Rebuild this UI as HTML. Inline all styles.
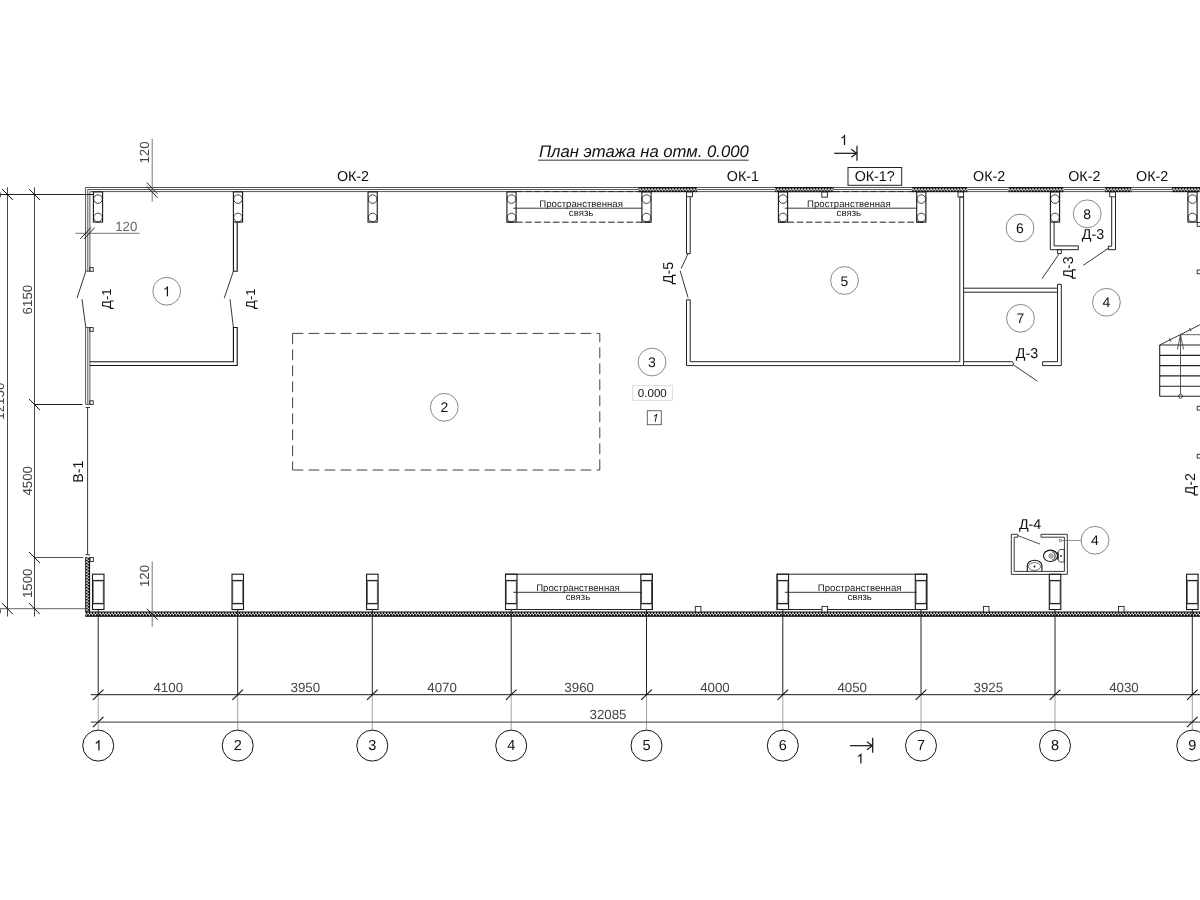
<!DOCTYPE html>
<html><head><meta charset="utf-8"><title>План этажа</title>
<style>
html,body{margin:0;padding:0;background:#fff;}
body{width:1200px;height:900px;overflow:hidden;font-family:"Liberation Sans",sans-serif;}
svg{display:block;font-family:"Liberation Sans",sans-serif;will-change:transform;opacity:0.999;}
text{text-rendering:geometricPrecision;}
</style></head><body>
<svg width="1200" height="900" viewBox="0 0 1200 900">
<defs>
<pattern id="hxT" x="0" y="187.0" width="3" height="5.2" patternUnits="userSpaceOnUse">
<rect width="3" height="5.2" fill="#0c0c0c"/>
<rect x="0.05" y="1.35" width="2.0" height="1.7" fill="#e2e2e2"/>
<rect x="1.8" y="2.85" width="1.2" height="1.2" fill="#fff"/>
</pattern>
<pattern id="hxB" x="0" y="611.5" width="3" height="5.3" patternUnits="userSpaceOnUse">
<rect width="3" height="5.3" fill="#0c0c0c"/>
<rect x="0.1" y="1.15" width="1.9" height="1.55" fill="#dcdcdc"/>
<rect x="1.8" y="2.65" width="1.2" height="1.25" fill="#fff"/>
</pattern>
<pattern id="hy" x="85.2" y="0" width="4.9" height="3" patternUnits="userSpaceOnUse">
<rect width="4.9" height="3" fill="#0c0c0c"/>
<rect y="0.1" x="1.05" width="1.5" height="1.9" fill="#dcdcdc"/>
<rect y="1.8" x="2.5" width="1.25" height="1.2" fill="#fff"/>
</pattern>
</defs>
<rect width="1200" height="900" fill="#fff"/>
<line x1="697.00" y1="187.50" x2="775.00" y2="187.50" stroke="#2a2a2a" stroke-width="0.8" />
<line x1="697.00" y1="189.55" x2="775.00" y2="189.55" stroke="#2a2a2a" stroke-width="0.8" />
<line x1="697.00" y1="191.60" x2="775.00" y2="191.60" stroke="#2a2a2a" stroke-width="0.8" />
<line x1="833.70" y1="187.50" x2="912.00" y2="187.50" stroke="#2a2a2a" stroke-width="0.8" />
<line x1="833.70" y1="189.55" x2="912.00" y2="189.55" stroke="#2a2a2a" stroke-width="0.8" />
<line x1="833.70" y1="191.60" x2="912.00" y2="191.60" stroke="#2a2a2a" stroke-width="0.8" />
<line x1="967.50" y1="187.50" x2="1008.30" y2="187.50" stroke="#2a2a2a" stroke-width="0.8" />
<line x1="967.50" y1="189.55" x2="1008.30" y2="189.55" stroke="#2a2a2a" stroke-width="0.8" />
<line x1="967.50" y1="191.60" x2="1008.30" y2="191.60" stroke="#2a2a2a" stroke-width="0.8" />
<line x1="1063.70" y1="187.50" x2="1104.70" y2="187.50" stroke="#2a2a2a" stroke-width="0.8" />
<line x1="1063.70" y1="189.55" x2="1104.70" y2="189.55" stroke="#2a2a2a" stroke-width="0.8" />
<line x1="1063.70" y1="191.60" x2="1104.70" y2="191.60" stroke="#2a2a2a" stroke-width="0.8" />
<line x1="1131.70" y1="187.50" x2="1172.00" y2="187.50" stroke="#2a2a2a" stroke-width="0.8" />
<line x1="1131.70" y1="189.55" x2="1172.00" y2="189.55" stroke="#2a2a2a" stroke-width="0.8" />
<line x1="1131.70" y1="191.60" x2="1172.00" y2="191.60" stroke="#2a2a2a" stroke-width="0.8" />
<path d="M85.6 271.2 V187.5 H638.3" stroke="#2a2a2a" stroke-width="0.8" fill="none" />
<path d="M87.8 271.2 V189.55 H638.3" stroke="#2a2a2a" stroke-width="0.8" fill="none" />
<path d="M89.9 271.2 V191.6 H638.3" stroke="#2a2a2a" stroke-width="0.8" fill="none" />
<rect x="638.30" y="187.00" width="58.70" height="5.20" stroke="none" stroke-width="0" fill="url(#hxT)" />
<rect x="775.00" y="187.00" width="58.70" height="5.20" stroke="none" stroke-width="0" fill="url(#hxT)" />
<rect x="912.00" y="187.00" width="55.50" height="5.20" stroke="none" stroke-width="0" fill="url(#hxT)" />
<rect x="1008.30" y="187.00" width="55.40" height="5.20" stroke="none" stroke-width="0" fill="url(#hxT)" />
<rect x="1104.70" y="187.00" width="27.00" height="5.20" stroke="none" stroke-width="0" fill="url(#hxT)" />
<rect x="1172.00" y="187.00" width="28.50" height="5.20" stroke="none" stroke-width="0" fill="url(#hxT)" />
<line x1="85.60" y1="327.50" x2="85.60" y2="404.40" stroke="#2a2a2a" stroke-width="0.8" />
<line x1="87.80" y1="327.50" x2="87.80" y2="404.40" stroke="#2a2a2a" stroke-width="0.8" />
<line x1="89.90" y1="327.50" x2="89.90" y2="404.40" stroke="#2a2a2a" stroke-width="0.8" />
<line x1="85.60" y1="271.20" x2="89.90" y2="271.20" stroke="#2a2a2a" stroke-width="0.8" />
<line x1="85.60" y1="327.50" x2="89.90" y2="327.50" stroke="#2a2a2a" stroke-width="0.8" />
<line x1="85.60" y1="404.40" x2="89.90" y2="404.40" stroke="#2a2a2a" stroke-width="0.8" />
<rect x="89.80" y="267.60" width="3.40" height="3.70" stroke="#222" stroke-width="0.9" fill="none" />
<rect x="89.80" y="327.60" width="3.40" height="3.70" stroke="#222" stroke-width="0.9" fill="none" />
<rect x="89.80" y="400.80" width="3.40" height="3.70" stroke="#222" stroke-width="0.9" fill="none" />
<line x1="85.80" y1="271.20" x2="77.00" y2="298.30" stroke="#222" stroke-width="0.9" />
<line x1="85.80" y1="327.50" x2="82.00" y2="299.20" stroke="#222" stroke-width="0.9" />
<line x1="87.60" y1="407.50" x2="87.60" y2="554.70" stroke="#222" stroke-width="0.9" />
<line x1="85.60" y1="407.50" x2="90.00" y2="407.50" stroke="#222" stroke-width="0.9" />
<line x1="85.60" y1="554.70" x2="90.00" y2="554.70" stroke="#222" stroke-width="0.9" />
<rect x="85.20" y="557.20" width="4.90" height="54.80" stroke="none" stroke-width="0" fill="url(#hy)" />
<rect x="85.20" y="611.50" width="1115.30" height="5.30" stroke="none" stroke-width="0" fill="url(#hxB)" />
<rect x="90.00" y="557.40" width="3.30" height="4.20" stroke="#222" stroke-width="0.9" fill="none" />
<path d="M89.8 361.7 H233.4 V327.5 H237.2 V365.5 H89.8" stroke="#111" stroke-width="1.1" fill="none" />
<path d="M233.4 222.5 V271.2 H237.2 V222.5" stroke="#111" stroke-width="1.1" fill="none" />
<line x1="233.40" y1="271.20" x2="224.20" y2="298.30" stroke="#222" stroke-width="0.9" />
<line x1="233.40" y1="327.50" x2="230.00" y2="299.20" stroke="#222" stroke-width="0.9" />
<path d="M686.5 196.7 V253.7 H690.2 V196.7" stroke="#222" stroke-width="1" fill="none" />
<rect x="686.50" y="191.90" width="6.00" height="4.80" stroke="#222" stroke-width="0.9" fill="none" />
<line x1="688.00" y1="253.70" x2="681.20" y2="268.50" stroke="#222" stroke-width="0.9" />
<line x1="680.20" y1="270.80" x2="688.00" y2="297.50" stroke="#222" stroke-width="0.9" />
<path d="M686.5 299.8 H690.2 V361.7 H959.8 V197 H963.6 V288.2 H1057.5 V284.3 H1061.3 V365.6 H1042.6 V361.7 H1057.5 V292.2 H963.6 V361.7 H1012.5 L1013.5 363.6 L1012.5 365.6 H686.5 Z" stroke="#222" stroke-width="1" fill="none" />
<line x1="963.60" y1="361.70" x2="963.60" y2="365.60" stroke="#222" stroke-width="1" />
<line x1="1057.50" y1="288.20" x2="1057.50" y2="292.20" stroke="#222" stroke-width="1" />
<line x1="963.60" y1="288.20" x2="963.60" y2="292.20" stroke="#222" stroke-width="1" />
<rect x="958.00" y="191.90" width="5.60" height="5.00" stroke="#222" stroke-width="0.9" fill="none" />
<line x1="1012.80" y1="364.40" x2="1037.50" y2="381.30" stroke="#222" stroke-width="0.9" />
<path d="M1050.3 222.5 V249.7 H1078.3 V245.9 H1054.1 V222.5" stroke="#222" stroke-width="1" fill="none" />
<rect x="1057.50" y="249.70" width="3.80" height="3.70" stroke="#222" stroke-width="0.9" fill="none" />
<line x1="1059.30" y1="253.60" x2="1042.00" y2="278.70" stroke="#222" stroke-width="0.9" />
<path d="M1111.7 196.8 V246.2 H1108.4 V249.7 H1115.5 V196.8" stroke="#222" stroke-width="1" fill="none" />
<rect x="1109.70" y="191.90" width="5.80" height="4.90" stroke="#222" stroke-width="0.9" fill="none" />
<line x1="1108.40" y1="248.20" x2="1083.30" y2="265.30" stroke="#222" stroke-width="0.9" />
<rect x="93.40" y="191.90" width="9.20" height="30.20" stroke="#161616" stroke-width="1.1" fill="none" />
<circle cx="98.00" cy="199.10" r="4.30" stroke="#222" stroke-width="0.85" fill="none"/>
<circle cx="98.00" cy="217.50" r="4.30" stroke="#222" stroke-width="0.85" fill="none"/>
<rect x="233.40" y="191.90" width="9.20" height="30.20" stroke="#161616" stroke-width="1.1" fill="none" />
<circle cx="238.00" cy="199.10" r="4.30" stroke="#222" stroke-width="0.85" fill="none"/>
<circle cx="238.00" cy="217.50" r="4.30" stroke="#222" stroke-width="0.85" fill="none"/>
<rect x="368.05" y="191.90" width="9.20" height="30.20" stroke="#161616" stroke-width="1.1" fill="none" />
<circle cx="372.65" cy="199.10" r="4.30" stroke="#222" stroke-width="0.85" fill="none"/>
<circle cx="372.65" cy="217.50" r="4.30" stroke="#222" stroke-width="0.85" fill="none"/>
<rect x="506.90" y="191.90" width="9.20" height="30.20" stroke="#161616" stroke-width="1.1" fill="none" />
<circle cx="511.50" cy="199.10" r="4.30" stroke="#222" stroke-width="0.85" fill="none"/>
<circle cx="511.50" cy="217.50" r="4.30" stroke="#222" stroke-width="0.85" fill="none"/>
<rect x="641.90" y="191.90" width="9.20" height="30.20" stroke="#161616" stroke-width="1.1" fill="none" />
<circle cx="646.50" cy="199.10" r="4.30" stroke="#222" stroke-width="0.85" fill="none"/>
<circle cx="646.50" cy="217.50" r="4.30" stroke="#222" stroke-width="0.85" fill="none"/>
<rect x="778.40" y="191.90" width="9.20" height="30.20" stroke="#161616" stroke-width="1.1" fill="none" />
<circle cx="783.00" cy="199.10" r="4.30" stroke="#222" stroke-width="0.85" fill="none"/>
<circle cx="783.00" cy="217.50" r="4.30" stroke="#222" stroke-width="0.85" fill="none"/>
<rect x="916.70" y="191.90" width="9.20" height="30.20" stroke="#161616" stroke-width="1.1" fill="none" />
<circle cx="921.30" cy="199.10" r="4.30" stroke="#222" stroke-width="0.85" fill="none"/>
<circle cx="921.30" cy="217.50" r="4.30" stroke="#222" stroke-width="0.85" fill="none"/>
<rect x="1050.40" y="191.90" width="9.20" height="30.20" stroke="#161616" stroke-width="1.1" fill="none" />
<circle cx="1055.00" cy="199.10" r="4.30" stroke="#222" stroke-width="0.85" fill="none"/>
<circle cx="1055.00" cy="217.50" r="4.30" stroke="#222" stroke-width="0.85" fill="none"/>
<rect x="1187.90" y="191.90" width="9.20" height="30.20" stroke="#161616" stroke-width="1.1" fill="none" />
<circle cx="1192.50" cy="199.10" r="4.30" stroke="#222" stroke-width="0.85" fill="none"/>
<circle cx="1192.50" cy="217.50" r="4.30" stroke="#222" stroke-width="0.85" fill="none"/>
<rect x="92.50" y="574.20" width="11.50" height="35.30" stroke="#161616" stroke-width="1.1" fill="#fff" />
<line x1="92.50" y1="580.60" x2="104.00" y2="580.60" stroke="#2a2a2a" stroke-width="1.4" />
<line x1="92.50" y1="603.60" x2="104.00" y2="603.60" stroke="#2a2a2a" stroke-width="1.4" />
<line x1="93.20" y1="581.50" x2="93.20" y2="602.80" stroke="#333" stroke-width="0.8" />
<line x1="103.30" y1="581.50" x2="103.30" y2="602.80" stroke="#333" stroke-width="0.8" />
<rect x="232.00" y="574.20" width="11.50" height="35.30" stroke="#161616" stroke-width="1.1" fill="#fff" />
<line x1="232.00" y1="580.60" x2="243.50" y2="580.60" stroke="#2a2a2a" stroke-width="1.4" />
<line x1="232.00" y1="603.60" x2="243.50" y2="603.60" stroke="#2a2a2a" stroke-width="1.4" />
<line x1="232.70" y1="581.50" x2="232.70" y2="602.80" stroke="#333" stroke-width="0.8" />
<line x1="242.80" y1="581.50" x2="242.80" y2="602.80" stroke="#333" stroke-width="0.8" />
<rect x="366.60" y="574.20" width="11.50" height="35.30" stroke="#161616" stroke-width="1.1" fill="#fff" />
<line x1="366.60" y1="580.60" x2="378.10" y2="580.60" stroke="#2a2a2a" stroke-width="1.4" />
<line x1="366.60" y1="603.60" x2="378.10" y2="603.60" stroke="#2a2a2a" stroke-width="1.4" />
<line x1="367.30" y1="581.50" x2="367.30" y2="602.80" stroke="#333" stroke-width="0.8" />
<line x1="377.40" y1="581.50" x2="377.40" y2="602.80" stroke="#333" stroke-width="0.8" />
<rect x="505.50" y="574.20" width="11.50" height="35.30" stroke="#161616" stroke-width="1.1" fill="#fff" />
<line x1="505.50" y1="580.60" x2="517.00" y2="580.60" stroke="#2a2a2a" stroke-width="1.4" />
<line x1="505.50" y1="603.60" x2="517.00" y2="603.60" stroke="#2a2a2a" stroke-width="1.4" />
<line x1="506.20" y1="581.50" x2="506.20" y2="602.80" stroke="#333" stroke-width="0.8" />
<line x1="516.30" y1="581.50" x2="516.30" y2="602.80" stroke="#333" stroke-width="0.8" />
<rect x="640.80" y="574.20" width="11.50" height="35.30" stroke="#161616" stroke-width="1.1" fill="#fff" />
<line x1="640.80" y1="580.60" x2="652.30" y2="580.60" stroke="#2a2a2a" stroke-width="1.4" />
<line x1="640.80" y1="603.60" x2="652.30" y2="603.60" stroke="#2a2a2a" stroke-width="1.4" />
<line x1="641.50" y1="581.50" x2="641.50" y2="602.80" stroke="#333" stroke-width="0.8" />
<line x1="651.60" y1="581.50" x2="651.60" y2="602.80" stroke="#333" stroke-width="0.8" />
<rect x="777.10" y="574.20" width="11.50" height="35.30" stroke="#161616" stroke-width="1.1" fill="#fff" />
<line x1="777.10" y1="580.60" x2="788.60" y2="580.60" stroke="#2a2a2a" stroke-width="1.4" />
<line x1="777.10" y1="603.60" x2="788.60" y2="603.60" stroke="#2a2a2a" stroke-width="1.4" />
<line x1="777.80" y1="581.50" x2="777.80" y2="602.80" stroke="#333" stroke-width="0.8" />
<line x1="787.90" y1="581.50" x2="787.90" y2="602.80" stroke="#333" stroke-width="0.8" />
<rect x="915.30" y="574.20" width="11.50" height="35.30" stroke="#161616" stroke-width="1.1" fill="#fff" />
<line x1="915.30" y1="580.60" x2="926.80" y2="580.60" stroke="#2a2a2a" stroke-width="1.4" />
<line x1="915.30" y1="603.60" x2="926.80" y2="603.60" stroke="#2a2a2a" stroke-width="1.4" />
<line x1="916.00" y1="581.50" x2="916.00" y2="602.80" stroke="#333" stroke-width="0.8" />
<line x1="926.10" y1="581.50" x2="926.10" y2="602.80" stroke="#333" stroke-width="0.8" />
<rect x="1049.30" y="574.20" width="11.50" height="35.30" stroke="#161616" stroke-width="1.1" fill="#fff" />
<line x1="1049.30" y1="580.60" x2="1060.80" y2="580.60" stroke="#2a2a2a" stroke-width="1.4" />
<line x1="1049.30" y1="603.60" x2="1060.80" y2="603.60" stroke="#2a2a2a" stroke-width="1.4" />
<line x1="1050.00" y1="581.50" x2="1050.00" y2="602.80" stroke="#333" stroke-width="0.8" />
<line x1="1060.10" y1="581.50" x2="1060.10" y2="602.80" stroke="#333" stroke-width="0.8" />
<rect x="1186.60" y="574.20" width="11.50" height="35.30" stroke="#161616" stroke-width="1.1" fill="#fff" />
<line x1="1186.60" y1="580.60" x2="1198.10" y2="580.60" stroke="#2a2a2a" stroke-width="1.4" />
<line x1="1186.60" y1="603.60" x2="1198.10" y2="603.60" stroke="#2a2a2a" stroke-width="1.4" />
<line x1="1187.30" y1="581.50" x2="1187.30" y2="602.80" stroke="#333" stroke-width="0.8" />
<line x1="1197.40" y1="581.50" x2="1197.40" y2="602.80" stroke="#333" stroke-width="0.8" />
<line x1="506.90" y1="222.20" x2="651.10" y2="222.20" stroke="#222" stroke-width="1" stroke-dasharray="6.6 2.6"/>
<line x1="515.90" y1="191.60" x2="642.10" y2="191.60" stroke="#222" stroke-width="0.9" stroke-dasharray="6.6 2.6"/>
<line x1="513.20" y1="208.20" x2="642.50" y2="208.20" stroke="#222" stroke-width="0.9" />
<text x="581.10" y="206.60" font-size="9.65" fill="#222" text-anchor="middle" >Пространственная</text>
<text x="581.10" y="215.90" font-size="9.65" fill="#222" text-anchor="middle" >связь</text>
<line x1="778.40" y1="222.20" x2="925.90" y2="222.20" stroke="#222" stroke-width="1" stroke-dasharray="6.6 2.6"/>
<line x1="787.40" y1="191.60" x2="916.90" y2="191.60" stroke="#222" stroke-width="0.9" stroke-dasharray="6.6 2.6"/>
<line x1="784.80" y1="208.20" x2="917.00" y2="208.20" stroke="#222" stroke-width="0.9" />
<text x="848.85" y="206.60" font-size="9.65" fill="#222" text-anchor="middle" >Пространственная</text>
<text x="848.85" y="215.90" font-size="9.65" fill="#222" text-anchor="middle" >связь</text>
<rect x="505.50" y="574.20" width="146.80" height="35.30" stroke="#222" stroke-width="1" fill="none" />
<line x1="513.20" y1="592.30" x2="642.00" y2="592.30" stroke="#222" stroke-width="0.9" />
<text x="577.95" y="590.80" font-size="9.65" fill="#222" text-anchor="middle" >Пространственная</text>
<text x="577.95" y="600.30" font-size="9.65" fill="#222" text-anchor="middle" >связь</text>
<rect x="777.10" y="574.20" width="149.70" height="35.30" stroke="#222" stroke-width="1" fill="none" />
<line x1="784.80" y1="592.30" x2="916.50" y2="592.30" stroke="#222" stroke-width="0.9" />
<text x="859.65" y="590.80" font-size="9.65" fill="#222" text-anchor="middle" >Пространственная</text>
<text x="859.65" y="600.30" font-size="9.65" fill="#222" text-anchor="middle" >связь</text>
<rect x="695.30" y="606.40" width="5.60" height="5.60" stroke="#222" stroke-width="0.9" fill="#fff" />
<rect x="822.00" y="606.40" width="5.60" height="5.60" stroke="#222" stroke-width="0.9" fill="#fff" />
<rect x="983.40" y="606.40" width="5.60" height="5.60" stroke="#222" stroke-width="0.9" fill="#fff" />
<rect x="1118.50" y="606.40" width="5.60" height="5.60" stroke="#222" stroke-width="0.9" fill="#fff" />
<rect x="821.80" y="191.90" width="5.60" height="5.30" stroke="#222" stroke-width="0.9" fill="none" />
<rect x="1197.20" y="222.50" width="4.80" height="3.80" stroke="#222" stroke-width="0.9" fill="none" />
<rect x="1197.20" y="270.00" width="4.80" height="3.80" stroke="#222" stroke-width="0.9" fill="none" />
<rect x="1197.20" y="406.30" width="4.80" height="3.80" stroke="#222" stroke-width="0.9" fill="none" />
<rect x="1197.20" y="454.30" width="4.80" height="3.80" stroke="#222" stroke-width="0.9" fill="none" />
<line x1="1159.70" y1="345.00" x2="1200.50" y2="345.00" stroke="#222" stroke-width="1.1" />
<line x1="1159.70" y1="355.40" x2="1200.50" y2="355.40" stroke="#222" stroke-width="1.1" />
<line x1="1159.70" y1="365.60" x2="1200.50" y2="365.60" stroke="#222" stroke-width="1.1" />
<line x1="1159.70" y1="375.90" x2="1200.50" y2="375.90" stroke="#222" stroke-width="1.1" />
<line x1="1159.70" y1="386.20" x2="1200.50" y2="386.20" stroke="#222" stroke-width="1.1" />
<line x1="1159.70" y1="396.30" x2="1200.50" y2="396.30" stroke="#222" stroke-width="1.1" />
<line x1="1159.70" y1="345.00" x2="1159.70" y2="396.30" stroke="#222" stroke-width="1.1" />
<line x1="1180.50" y1="334.70" x2="1200.50" y2="334.70" stroke="#666" stroke-width="1" />
<line x1="1159.70" y1="345.00" x2="1200.50" y2="324.50" stroke="#222" stroke-width="0.9" />
<line x1="1169.20" y1="338.20" x2="1170.80" y2="341.40" stroke="#222" stroke-width="0.9" />
<line x1="1189.50" y1="328.00" x2="1191.10" y2="331.20" stroke="#222" stroke-width="0.9" />
<line x1="1180.50" y1="334.70" x2="1180.50" y2="394.40" stroke="#333" stroke-width="0.8" />
<path d="M1177.4 349.4 L1180.5 335 L1183.5 349.4" stroke="#333" stroke-width="0.8" fill="none" />
<circle cx="1180.50" cy="396.30" r="2.00" stroke="#333" stroke-width="0.8" fill="none"/>
<path d="M1017.7 534.3 H1011.3 V574.4 H1067.3 V534.3 H1041.0 V537.2 H1064.4 V571.4 H1014.2 V537.2 H1017.7 Z" stroke="#222" stroke-width="0.9" fill="none" />
<line x1="1017.90" y1="535.60" x2="1040.00" y2="544.10" stroke="#222" stroke-width="0.8" />
<circle cx="1060.40" cy="540.50" r="1.20" stroke="#333" stroke-width="0.7" fill="none"/>
<line x1="1061.60" y1="540.50" x2="1081.10" y2="540.50" stroke="#666" stroke-width="0.7" />
<ellipse cx="1050.5" cy="555.8" rx="7.0" ry="5.7" stroke="#111" stroke-width="1.1" fill="none"/>
<path d="M1051.5 551.6 A4.4 4.4 0 0 1 1051.5 560.2" stroke="#333" stroke-width="0.7" fill="none" />
<path d="M1053.0 551.0 A6 6 0 0 1 1053.0 560.8" stroke="#444" stroke-width="0.6" fill="none" />
<circle cx="1051.00" cy="556.00" r="2.10" stroke="#222" stroke-width="0.6" fill="none"/>
<circle cx="1051.00" cy="556.00" r="0.50" stroke="#222" stroke-width="0.3" fill="#222"/>
<path d="M1057.9 552.0 L1059.8 549.5 H1064.3 V562.0 H1059.8 L1057.9 559.8 Z" stroke="#222" stroke-width="0.8" fill="none" />
<line x1="1058.00" y1="552.50" x2="1058.00" y2="559.50" stroke="#111" stroke-width="1.3" />
<circle cx="1061.00" cy="555.90" r="0.75" stroke="#111" stroke-width="0.4" fill="#111"/>
<path d="M1027.3 571.3 V565.6 A7.3 5.4 0 0 1 1041.9 565.6 V571.3" stroke="#111" stroke-width="1.1" fill="none" />
<ellipse cx="1034.5" cy="566.5" rx="6.1" ry="3.9" stroke="#333" stroke-width="0.7" fill="none"/>
<path d="M1034.5 565.5 L1035.5 566.5 L1034.5 567.5 L1033.5 566.5 Z" stroke="#111" stroke-width="0.3" fill="#111" />
<line x1="292.60" y1="333.40" x2="599.80" y2="333.40" stroke="#3a3a3a" stroke-width="0.95" stroke-dasharray="10.7 5.3" stroke-dashoffset="0"/>
<line x1="292.60" y1="333.40" x2="292.60" y2="470.00" stroke="#3a3a3a" stroke-width="0.95" stroke-dasharray="10.7 5.3" stroke-dashoffset="0"/>
<line x1="599.80" y1="333.40" x2="599.80" y2="470.00" stroke="#3a3a3a" stroke-width="0.95" stroke-dasharray="10.7 5.3" stroke-dashoffset="2"/>
<line x1="292.60" y1="470.00" x2="599.80" y2="470.00" stroke="#3a3a3a" stroke-width="0.95" stroke-dasharray="10.7 5.3" stroke-dashoffset="0"/>
<line x1="98.20" y1="609.50" x2="98.20" y2="694.70" stroke="#222" stroke-width="1" />
<line x1="98.20" y1="694.70" x2="98.20" y2="730.00" stroke="#999" stroke-width="0.9" />
<circle cx="98.20" cy="745.60" r="15.50" stroke="#111" stroke-width="1" fill="none"/>
<line x1="237.70" y1="609.50" x2="237.70" y2="694.70" stroke="#222" stroke-width="1" />
<line x1="237.70" y1="694.70" x2="237.70" y2="730.00" stroke="#999" stroke-width="0.9" />
<circle cx="237.70" cy="745.60" r="15.50" stroke="#111" stroke-width="1" fill="none"/>
<line x1="372.30" y1="609.50" x2="372.30" y2="694.70" stroke="#222" stroke-width="1" />
<line x1="372.30" y1="694.70" x2="372.30" y2="730.00" stroke="#999" stroke-width="0.9" />
<circle cx="372.30" cy="745.60" r="15.50" stroke="#111" stroke-width="1" fill="none"/>
<line x1="511.20" y1="609.50" x2="511.20" y2="694.70" stroke="#222" stroke-width="1" />
<line x1="511.20" y1="694.70" x2="511.20" y2="730.00" stroke="#999" stroke-width="0.9" />
<circle cx="511.20" cy="745.60" r="15.50" stroke="#111" stroke-width="1" fill="none"/>
<line x1="646.50" y1="609.50" x2="646.50" y2="694.70" stroke="#222" stroke-width="1" />
<line x1="646.50" y1="694.70" x2="646.50" y2="730.00" stroke="#999" stroke-width="0.9" />
<circle cx="646.50" cy="745.60" r="15.50" stroke="#111" stroke-width="1" fill="none"/>
<line x1="782.80" y1="609.50" x2="782.80" y2="694.70" stroke="#222" stroke-width="1" />
<line x1="782.80" y1="694.70" x2="782.80" y2="730.00" stroke="#999" stroke-width="0.9" />
<circle cx="782.80" cy="745.60" r="15.50" stroke="#111" stroke-width="1" fill="none"/>
<line x1="921.00" y1="609.50" x2="921.00" y2="694.70" stroke="#222" stroke-width="1" />
<line x1="921.00" y1="694.70" x2="921.00" y2="730.00" stroke="#999" stroke-width="0.9" />
<circle cx="921.00" cy="745.60" r="15.50" stroke="#111" stroke-width="1" fill="none"/>
<line x1="1055.00" y1="609.50" x2="1055.00" y2="694.70" stroke="#222" stroke-width="1" />
<line x1="1055.00" y1="694.70" x2="1055.00" y2="730.00" stroke="#999" stroke-width="0.9" />
<circle cx="1055.00" cy="745.60" r="15.50" stroke="#111" stroke-width="1" fill="none"/>
<line x1="1192.30" y1="609.50" x2="1192.30" y2="694.70" stroke="#222" stroke-width="1" />
<line x1="1192.30" y1="694.70" x2="1192.30" y2="730.00" stroke="#999" stroke-width="0.9" />
<circle cx="1192.30" cy="745.60" r="15.50" stroke="#111" stroke-width="1" fill="none"/>
<path transform="translate(94.17 750.40) scale(0.00708 -0.00708)" fill="#111" d="M763 0L583 0L583 1147Q518 1085 412.5 1023Q307 961 223 930L223 1104Q374 1175 487 1276Q600 1377 647 1472L763 1472Z"/>
<text x="237.70" y="750.40" font-size="14.5" fill="#111" text-anchor="middle" >2</text>
<text x="372.30" y="750.40" font-size="14.5" fill="#111" text-anchor="middle" >3</text>
<text x="511.20" y="750.40" font-size="14.5" fill="#111" text-anchor="middle" >4</text>
<text x="646.50" y="750.40" font-size="14.5" fill="#111" text-anchor="middle" >5</text>
<text x="782.80" y="750.40" font-size="14.5" fill="#111" text-anchor="middle" >6</text>
<text x="921.00" y="750.40" font-size="14.5" fill="#111" text-anchor="middle" >7</text>
<text x="1055.00" y="750.40" font-size="14.5" fill="#111" text-anchor="middle" >8</text>
<text x="1192.30" y="750.40" font-size="14.5" fill="#111" text-anchor="middle" >9</text>
<line x1="90.80" y1="694.70" x2="1200.50" y2="694.70" stroke="#1a1a1a" stroke-width="1" />
<line x1="90.80" y1="722.00" x2="1200.50" y2="722.00" stroke="#606060" stroke-width="1.25" />
<line x1="92.90" y1="699.80" x2="103.50" y2="689.60" stroke="#111" stroke-width="1.1" />
<line x1="232.40" y1="699.80" x2="243.00" y2="689.60" stroke="#111" stroke-width="1.1" />
<line x1="367.00" y1="699.80" x2="377.60" y2="689.60" stroke="#111" stroke-width="1.1" />
<line x1="505.90" y1="699.80" x2="516.50" y2="689.60" stroke="#111" stroke-width="1.1" />
<line x1="641.20" y1="699.80" x2="651.80" y2="689.60" stroke="#111" stroke-width="1.1" />
<line x1="777.50" y1="699.80" x2="788.10" y2="689.60" stroke="#111" stroke-width="1.1" />
<line x1="915.70" y1="699.80" x2="926.30" y2="689.60" stroke="#111" stroke-width="1.1" />
<line x1="1049.70" y1="699.80" x2="1060.30" y2="689.60" stroke="#111" stroke-width="1.1" />
<line x1="1187.00" y1="699.80" x2="1197.60" y2="689.60" stroke="#111" stroke-width="1.1" />
<line x1="92.90" y1="727.10" x2="103.50" y2="716.90" stroke="#111" stroke-width="1.1" />
<line x1="1187.00" y1="727.10" x2="1197.60" y2="716.90" stroke="#111" stroke-width="1.1" />
<text x="168.25" y="691.60" font-size="13.3" fill="#444" text-anchor="middle" >4100</text>
<text x="305.30" y="691.60" font-size="13.3" fill="#444" text-anchor="middle" >3950</text>
<text x="442.05" y="691.60" font-size="13.3" fill="#444" text-anchor="middle" >4070</text>
<text x="579.15" y="691.60" font-size="13.3" fill="#444" text-anchor="middle" >3960</text>
<text x="714.95" y="691.60" font-size="13.3" fill="#444" text-anchor="middle" >4000</text>
<text x="852.20" y="691.60" font-size="13.3" fill="#444" text-anchor="middle" >4050</text>
<text x="988.30" y="691.60" font-size="13.3" fill="#444" text-anchor="middle" >3925</text>
<text x="1123.95" y="691.60" font-size="13.3" fill="#444" text-anchor="middle" >4030</text>
<text x="608.00" y="718.60" font-size="13.3" fill="#444" text-anchor="middle" >32085</text>
<line x1="7.50" y1="187.30" x2="7.50" y2="616.50" stroke="#333" stroke-width="0.9" />
<line x1="34.50" y1="187.30" x2="34.50" y2="616.50" stroke="#333" stroke-width="0.9" />
<line x1="0.00" y1="194.50" x2="93.50" y2="194.50" stroke="#222" stroke-width="1" />
<rect x="-1.00" y="192.60" width="1.70" height="4.60" stroke="none" stroke-width="0" fill="#222" />
<rect x="-1.00" y="609.30" width="1.70" height="4.00" stroke="none" stroke-width="0" fill="#222" />
<line x1="34.50" y1="404.50" x2="82.50" y2="404.50" stroke="#222" stroke-width="1" />
<line x1="34.50" y1="557.50" x2="83.30" y2="557.50" stroke="#555" stroke-width="1" />
<line x1="0.00" y1="608.70" x2="85.50" y2="608.70" stroke="#666" stroke-width="1" />
<line x1="2.10" y1="189.00" x2="12.90" y2="200.00" stroke="#111" stroke-width="1.0" />
<line x1="29.10" y1="189.00" x2="39.90" y2="200.00" stroke="#111" stroke-width="1.0" />
<line x1="29.10" y1="399.00" x2="39.90" y2="410.00" stroke="#111" stroke-width="1.0" />
<line x1="29.10" y1="552.00" x2="39.90" y2="563.00" stroke="#111" stroke-width="1.0" />
<line x1="29.10" y1="603.20" x2="39.90" y2="614.20" stroke="#111" stroke-width="1.0" />
<line x1="2.10" y1="603.20" x2="12.90" y2="614.20" stroke="#111" stroke-width="1.0" />
<text x="31.60" y="299.60" font-size="13.3" fill="#444" text-anchor="middle" transform="rotate(-90 31.60 299.60)" >6150</text>
<text x="31.60" y="480.80" font-size="13.3" fill="#444" text-anchor="middle" transform="rotate(-90 31.60 480.80)" >4500</text>
<text x="31.60" y="583.30" font-size="13.3" fill="#444" text-anchor="middle" transform="rotate(-90 31.60 583.30)" >1500</text>
<text x="4.20" y="401.20" font-size="13.3" fill="#444" text-anchor="middle" transform="rotate(-90 4.20 401.20)" >12150</text>
<line x1="152.20" y1="139.00" x2="152.20" y2="201.70" stroke="#777" stroke-width="1" />
<line x1="146.90" y1="182.60" x2="157.30" y2="193.80" stroke="#222" stroke-width="1" />
<line x1="146.90" y1="186.30" x2="157.30" y2="197.50" stroke="#222" stroke-width="1" />
<text x="149.30" y="152.50" font-size="13.3" fill="#444" text-anchor="middle" transform="rotate(-90 149.30 152.50)" >120</text>
<line x1="75.30" y1="233.30" x2="139.70" y2="233.30" stroke="#777" stroke-width="1" />
<line x1="80.30" y1="238.90" x2="90.90" y2="227.60" stroke="#222" stroke-width="1" />
<line x1="84.00" y1="238.90" x2="94.60" y2="227.60" stroke="#222" stroke-width="1" />
<text x="126.30" y="230.50" font-size="13.3" fill="#666" text-anchor="middle" >120</text>
<line x1="152.20" y1="561.70" x2="152.20" y2="626.70" stroke="#777" stroke-width="1" />
<line x1="146.80" y1="608.70" x2="157.60" y2="619.70" stroke="#111" stroke-width="1.0" />
<text x="149.30" y="576.00" font-size="13.3" fill="#444" text-anchor="middle" transform="rotate(-90 149.30 576.00)" >120</text>
<text x="353.00" y="181.20" font-size="14.3" fill="#111" text-anchor="middle" >ОК-2</text>
<text x="742.90" y="181.20" font-size="14.3" fill="#111" text-anchor="middle" >ОК-1</text>
<text x="989.20" y="181.00" font-size="14.3" fill="#111" text-anchor="middle" >ОК-2</text>
<text x="1084.30" y="181.00" font-size="14.3" fill="#111" text-anchor="middle" >ОК-2</text>
<text x="1152.20" y="181.00" font-size="14.3" fill="#111" text-anchor="middle" >ОК-2</text>
<rect x="848.00" y="167.50" width="53.70" height="17.80" stroke="#222" stroke-width="1" fill="none" />
<text x="874.70" y="180.90" font-size="14.3" fill="#111" text-anchor="middle" >ОК-1?</text>
<text x="111.10" y="298.70" font-size="13" fill="#111" text-anchor="middle" transform="rotate(-90 111.10 298.70)" >Д-1</text>
<text x="254.70" y="298.70" font-size="13" fill="#111" text-anchor="middle" transform="rotate(-90 254.70 298.70)" >Д-1</text>
<text x="672.60" y="273.00" font-size="14.3" fill="#111" text-anchor="middle" transform="rotate(-90 672.60 273.00)" >Д-5</text>
<text x="1073.00" y="267.50" font-size="14.3" fill="#111" text-anchor="middle" transform="rotate(-90 1073.00 267.50)" >Д-3</text>
<text x="1093.00" y="239.20" font-size="14.3" fill="#111" text-anchor="middle" >Д-3</text>
<text x="1027.00" y="358.00" font-size="14.3" fill="#111" text-anchor="middle" >Д-3</text>
<text x="1030.10" y="529.20" font-size="14.3" fill="#111" text-anchor="middle" >Д-4</text>
<text x="1195.50" y="484.30" font-size="14.3" fill="#111" text-anchor="middle" transform="rotate(-90 1195.50 484.30)" >Д-2</text>
<text x="83.00" y="471.70" font-size="14.3" fill="#111" text-anchor="middle" transform="rotate(-90 83.00 471.70)" >В-1</text>
<circle cx="166.70" cy="291.20" r="13.90" stroke="#555" stroke-width="0.7" fill="none"/>
<path transform="translate(162.81 296.20) scale(0.00684 -0.00684)" fill="#111" d="M763 0L583 0L583 1147Q518 1085 412.5 1023Q307 961 223 930L223 1104Q374 1175 487 1276Q600 1377 647 1472L763 1472Z"/>
<circle cx="444.30" cy="407.30" r="13.90" stroke="#555" stroke-width="0.7" fill="none"/>
<text x="444.30" y="412.30" font-size="14" fill="#111" text-anchor="middle" >2</text>
<circle cx="652.00" cy="362.00" r="13.90" stroke="#555" stroke-width="0.7" fill="none"/>
<text x="652.00" y="367.00" font-size="14" fill="#111" text-anchor="middle" >3</text>
<circle cx="844.50" cy="280.50" r="13.90" stroke="#555" stroke-width="0.7" fill="none"/>
<text x="844.50" y="285.50" font-size="14" fill="#111" text-anchor="middle" >5</text>
<circle cx="1020.00" cy="228.00" r="13.90" stroke="#555" stroke-width="0.7" fill="none"/>
<text x="1020.00" y="233.00" font-size="14" fill="#111" text-anchor="middle" >6</text>
<circle cx="1087.20" cy="213.80" r="13.90" stroke="#555" stroke-width="0.7" fill="none"/>
<text x="1087.20" y="218.80" font-size="14" fill="#111" text-anchor="middle" >8</text>
<circle cx="1020.50" cy="318.30" r="13.90" stroke="#555" stroke-width="0.7" fill="none"/>
<text x="1020.50" y="323.30" font-size="14" fill="#111" text-anchor="middle" >7</text>
<circle cx="1106.40" cy="302.30" r="13.90" stroke="#555" stroke-width="0.7" fill="none"/>
<text x="1106.40" y="307.30" font-size="14" fill="#111" text-anchor="middle" >4</text>
<circle cx="1095.00" cy="540.30" r="13.90" stroke="#555" stroke-width="0.7" fill="none"/>
<text x="1095.00" y="545.30" font-size="14" fill="#111" text-anchor="middle" >4</text>
<rect x="632.70" y="385.60" width="39.70" height="14.80" stroke="#ddd" stroke-width="1" fill="none" />
<text x="652.30" y="397.30" font-size="11.6" fill="#111" text-anchor="middle" >0.000</text>
<rect x="647.30" y="410.70" width="14.00" height="14.00" stroke="#555" stroke-width="0.9" fill="none" />
<path transform="translate(651.54 421.70) skewX(-12) scale(0.00537 -0.00537)" fill="#111" d="M763 0L583 0L583 1147Q518 1085 412.5 1023Q307 961 223 930L223 1104Q374 1175 487 1276Q600 1377 647 1472L763 1472Z"/>
<text x="538.90" y="156.80" font-size="16.72" fill="#111" text-anchor="start" style="font-style:italic" >План этажа на отм. 0.000</text>
<line x1="538.20" y1="160.20" x2="748.70" y2="160.20" stroke="#777" stroke-width="1.6" />
<path transform="translate(839.91 144.90) scale(0.00684 -0.00684)" fill="#111" d="M763 0L583 0L583 1147Q518 1085 412.5 1023Q307 961 223 930L223 1104Q374 1175 487 1276Q600 1377 647 1472L763 1472Z"/>
<line x1="834.20" y1="153.30" x2="857.00" y2="153.30" stroke="#111" stroke-width="1.2" />
<line x1="857.00" y1="145.80" x2="857.00" y2="160.80" stroke="#111" stroke-width="1.2" />
<path d="M851.3 149.3 L856.6 153.3 L851.3 157.3" stroke="#111" stroke-width="1.1" fill="none" />
<path transform="translate(856.31 763.50) scale(0.00684 -0.00684)" fill="#111" d="M763 0L583 0L583 1147Q518 1085 412.5 1023Q307 961 223 930L223 1104Q374 1175 487 1276Q600 1377 647 1472L763 1472Z"/>
<line x1="850.00" y1="745.70" x2="872.70" y2="745.70" stroke="#111" stroke-width="1.2" />
<line x1="872.70" y1="737.80" x2="872.70" y2="752.80" stroke="#111" stroke-width="1.2" />
<path d="M867.0 741.7 L872.3 745.7 L867.0 749.7" stroke="#111" stroke-width="1.1" fill="none" />
</svg>
</body></html>
